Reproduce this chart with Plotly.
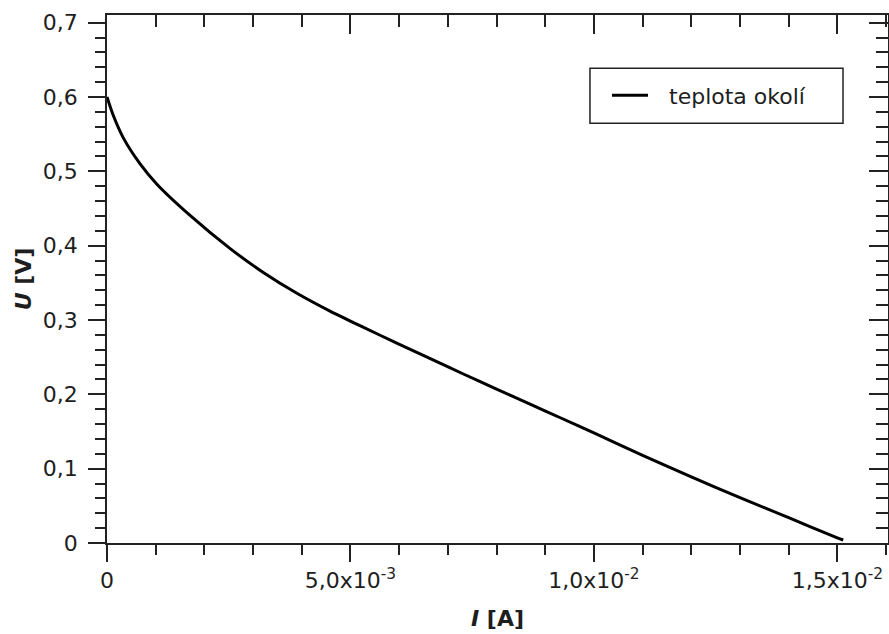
import plotly.graph_objects as go

# Data
current_A = [0, 1.3e-4, 3.35e-4, 6.8e-4, 1.02e-3, 1.70e-3, 2.53e-3, 3.21e-3, 3.90e-3,
             4.58e-3, 5.27e-3, 5.95e-3, 6.64e-3, 7.33e-3, 8.0e-3, 8.7e-3, 9.31e-3,
             1.0e-2, 1.1e-2, 1.2e-2, 1.3e-2, 1.4e-2, 1.5e-2, 1.512e-2]
voltage_V = [0.600, 0.575, 0.545, 0.510, 0.483, 0.441, 0.396, 0.364, 0.336,
             0.312, 0.290, 0.269, 0.248, 0.227, 0.207, 0.1865, 0.1685,
             0.148, 0.118, 0.089, 0.061, 0.034, 0.007, 0.004]
series_name = "teplota okolí"

x_tickvals = [0, 0.005, 0.010, 0.015]
x_ticktext = ["0", "5,0x10<sup>-3</sup>", "1,0x10<sup>-2</sup>", "1,5x10<sup>-2</sup>"]
y_tickvals = [0, 0.1, 0.2, 0.3, 0.4, 0.5, 0.6, 0.7]
y_ticktext = ["0", "0,1", "0,2", "0,3", "0,4", "0,5", "0,6", "0,7"]

x_range = [0, 0.01604]
y_range = [0, 0.7103]

FONT = "DejaVu Sans"
TXT = "#1e1e1e"
AX = "#222222"

fig = go.Figure()
fig.add_trace(go.Scatter(x=current_A, y=voltage_V, mode="lines", name=series_name,
                         line=dict(color="black", width=3, shape="spline", smoothing=0.8),
                         showlegend=False))
# invisible trace hosting the mirrored (top/right) axes
fig.add_trace(go.Scatter(x=current_A, y=voltage_V, mode="lines", xaxis="x2", yaxis="y2",
                         line=dict(width=0), opacity=0, showlegend=False, hoverinfo="skip"))

common = dict(showgrid=False, zeroline=False, showline=True, linecolor=AX, linewidth=1.5,
              tickcolor=AX, tickwidth=1.5, automargin=False)

fig.update_layout(
    width=889, height=634,
    margin=dict(l=107, r=1, t=15, b=91),
    paper_bgcolor="white", plot_bgcolor="white",
    font=dict(family=FONT, size=22, color=TXT),
    xaxis=dict(range=x_range, tickvals=x_tickvals, ticktext=x_ticktext,
               ticks="outside", ticklen=17,
               minor=dict(dtick=0.001, tick0=0, ticks="outside", ticklen=10, tickcolor=AX, tickwidth=1.5),
               title=dict(text="<b><i>I</i> [A]</b>", font=dict(size=22, color=TXT), standoff=18),
               **common),
    yaxis=dict(range=y_range, tickvals=y_tickvals, ticktext=y_ticktext,
               ticks="outside", ticklen=17, ticklabelstandoff=6,
               minor=dict(dtick=0.02, tick0=0, ticks="outside", ticklen=10, tickcolor=AX, tickwidth=1.5),
               title=dict(text="<b><i>U</i> [V]</b>", font=dict(size=22, color=TXT), standoff=5),
               **common),
    xaxis2=dict(range=x_range, overlaying="x", side="top", anchor="y", tickvals=x_tickvals,
                showticklabels=False, ticks="inside", ticklen=19,
                minor=dict(dtick=0.001, tick0=0, ticks="inside", ticklen=12, tickcolor=AX, tickwidth=1.5),
                **common),
    yaxis2=dict(range=y_range, overlaying="y", side="right", anchor="x", tickvals=y_tickvals,
                showticklabels=False, ticks="inside", ticklen=19,
                minor=dict(dtick=0.02, tick0=0, ticks="inside", ticklen=12, tickcolor=AX, tickwidth=1.5),
                **common),
    showlegend=False,
)

# Legend box (drawn to match the reference's proportions)
fig.add_shape(type="rect", xref="paper", yref="paper", x0=0.6184, x1=0.9424, y0=0.795, y1=0.8992,
              line=dict(color=AX, width=1.5), fillcolor="white", layer="above")
fig.add_shape(type="line", xref="paper", yref="paper", x0=0.6466, x1=0.6927, y0=0.848, y1=0.848,
              line=dict(color="black", width=3), layer="above")
fig.add_annotation(xref="paper", yref="paper", x=0.7169, y=0.846, xanchor="left", yanchor="middle",
                   text=series_name, showarrow=False, font=dict(size=22, color=TXT))

fig.write_html("out.html", config={"displayModeBar": False},
               post_script="document.body.style.margin='0';document.body.style.overflow='hidden';")
